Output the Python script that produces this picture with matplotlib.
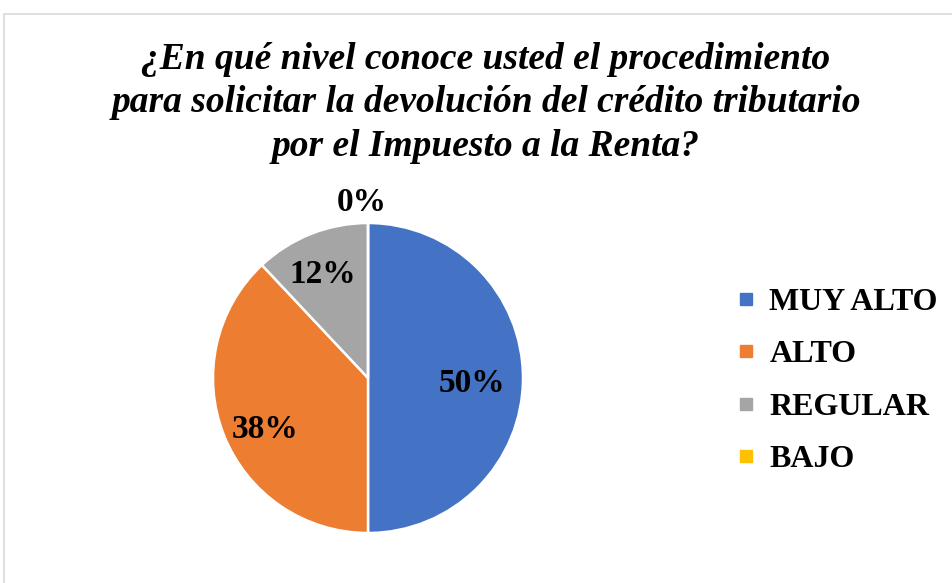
import numpy as np
import matplotlib
matplotlib.use("Agg")
import matplotlib.pyplot as plt
from matplotlib.lines import Line2D
from matplotlib.patches import Rectangle

categories = ["MUY ALTO", "ALTO", "REGULAR", "BAJO"]
values = [50, 38, 12, 0]
colors = ["#4472C4", "#ED7D31", "#A5A5A5", "#FFC000"]
title = "¿En qué nivel conoce usted el procedimiento\npara solicitar la devolución del crédito tributario\npor el Impuesto a la Renta?"

plt.rcParams["font.family"] = ["Liberation Serif", "DejaVu Serif"]

W, H = 953, 583
fig = plt.figure(figsize=(W / 100, H / 100), dpi=100)

# chart border (light gray, runs off right/bottom edges)
fig.patches.append(Rectangle((4 / W, -0.1), 1.2, (H - 14) / H + 0.1,
                             transform=fig.transFigure, fill=False,
                             edgecolor="#d9d9d9", linewidth=1.2))

fig.text(486 / W, 1 - 103 / H, title, ha="center", va="center",
         fontsize=27, fontweight="bold", fontstyle="italic", linespacing=1.3)

cx, cy, r = 368, H - 378, 155
ax = fig.add_axes([(cx - r) / W, (cy - r) / H, 2 * r / W, 2 * r / H])
wedges, _ = ax.pie(values, colors=colors, startangle=90, counterclock=False,
                   wedgeprops=dict(edgecolor="white", linewidth=1.8))
ax.set_xlim(-1, 1)
ax.set_ylim(-1, 1)
ax.set_aspect("equal")

# best-fit style label placement: radius factor and small angle tweak
label_r = [0.67, 0.74, 0.73, 1.13]
label_da = [-3, 5, 2, 2]
for w, v, lr, da in zip(wedges, values, label_r, label_da):
    mid = np.deg2rad((w.theta1 + w.theta2) / 2 + da)
    ax.text(lr * np.cos(mid), lr * np.sin(mid), f"{v}%", ha="center", va="center",
            fontsize=24, fontweight="bold", clip_on=False)

handles = [Line2D([], [], marker="s", linestyle="", markersize=8,
                  markerfacecolor=c, markeredgecolor=c) for c in colors]
fig.legend(handles, categories, loc="center left",
           bbox_to_anchor=(708 / W, 1 - 381 / H), frameon=False,
           prop=dict(size=23, weight="bold"), labelspacing=0.72,
           handlelength=0.6, handletextpad=0.42)

fig.savefig("out.png", dpi=100)
